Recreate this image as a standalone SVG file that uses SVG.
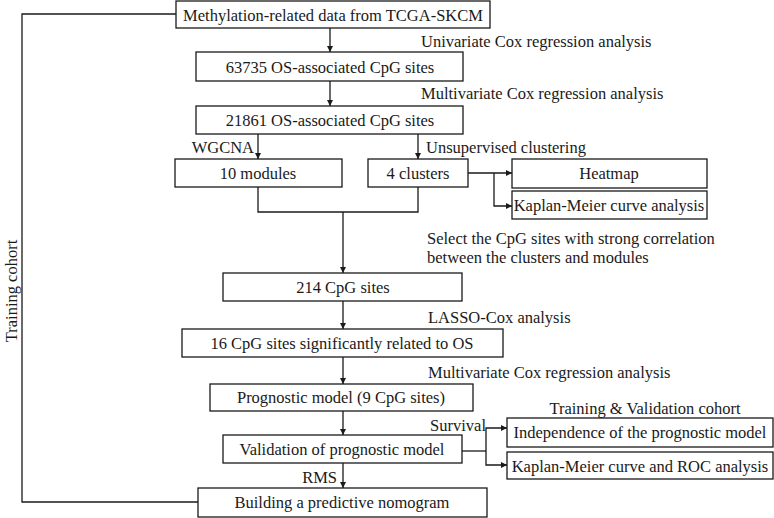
<svg xmlns="http://www.w3.org/2000/svg" width="774" height="518" viewBox="0 0 774 518">
<defs>
<marker id="ah" viewBox="0 0 10 10" refX="10" refY="5" markerWidth="6" markerHeight="6" markerUnits="userSpaceOnUse" orient="auto">
<path d="M0,0 L10,5 L0,10 z" fill="#1a1a1a"/>
</marker>
<style>
rect{fill:#fff;stroke:#1a1a1a;stroke-width:1.3}
text{font-family:"Liberation Serif","Times New Roman",serif;font-size:16.5px;fill:#1a1a1a}
.c{text-anchor:middle;dominant-baseline:central}
.l{dominant-baseline:central}
.r{text-anchor:end;dominant-baseline:central}
#connectors path{fill:none;stroke:#1a1a1a;stroke-width:1.3}
.a{marker-end:url(#ah)}
</style>
</defs>
<rect x="0" y="0" width="774" height="518" style="fill:#fff;stroke:none"/>
<g id="connectors">
<path d="M176,14 H22 V502 H198"/>
<path class="a" d="M330,28 V52"/>
<path class="a" d="M330,81 V106"/>
<path class="a" d="M258,134 V159"/>
<path class="a" d="M418,134 V159"/>
<path d="M258,187 V212 H418 V187"/>
<path class="a" d="M343,212 V273"/>
<path class="a" d="M468,173 H512"/>
<path class="a" d="M494,173 V206 H512"/>
<path class="a" d="M343,301 V329"/>
<path class="a" d="M343,357 V384"/>
<path class="a" d="M343,411 V435"/>
<path class="a" d="M343,463 V488"/>
<path d="M462,451 H486"/>
<path class="a" d="M486,451 V428 H507"/>
<path class="a" d="M486,451 V465 H507"/>
</g>
<g id="n1"><rect x="176" y="1" width="314" height="27"/><text class="c" x="333" y="15">Methylation-related data from TCGA-SKCM</text></g>
<g id="n2"><rect x="196" y="52" width="267" height="29"/><text class="c" x="330" y="67">63735 OS-associated CpG sites</text></g>
<g id="n3"><rect x="196" y="106" width="267" height="28"/><text class="c" x="330" y="120">21861 OS-associated CpG sites</text></g>
<g id="n4"><rect x="175" y="159" width="167" height="28"/><text class="c" x="258" y="173">10 modules</text></g>
<g id="n5"><rect x="368" y="159" width="100" height="28"/><text class="c" x="418" y="173">4 clusters</text></g>
<g id="n6"><rect x="512" y="159" width="195" height="29"/><text class="c" x="609" y="173">Heatmap</text></g>
<g id="n7"><rect x="512" y="191" width="195" height="28"/><text class="c" x="609" y="205">Kaplan-Meier curve analysis</text></g>
<g id="n8"><rect x="223" y="273" width="239" height="28"/><text class="c" x="343" y="287">214 CpG sites</text></g>
<g id="n9"><rect x="182" y="329" width="321" height="28"/><text class="c" x="342" y="343">16 CpG sites significantly related to OS</text></g>
<g id="n10"><rect x="210" y="384" width="263" height="27"/><text class="c" x="341" y="397">Prognostic model (9 CpG sites)</text></g>
<g id="n11"><rect x="223" y="435" width="239" height="28"/><text class="c" x="342" y="449">Validation of prognostic model</text></g>
<g id="n12"><rect x="507" y="418" width="266" height="29"/><text class="c" x="640" y="432">Independence of the prognostic model</text></g>
<g id="n13"><rect x="507" y="452" width="266" height="27"/><text class="c" x="640" y="466">Kaplan-Meier curve and ROC analysis</text></g>
<g id="n14"><rect x="198" y="488" width="289" height="29"/><text class="c" x="342" y="502">Building a predictive nomogram</text></g>
<g id="labels">
<text class="l" x="421" y="41">Univariate Cox regression analysis</text>
<text class="l" x="421" y="93">Multivariate Cox regression analysis</text>
<text class="r" x="254" y="147">WGCNA</text>
<text class="l" x="426" y="147">Unsupervised clustering</text>
<text class="l" x="427" y="238">Select the CpG sites with strong correlation</text>
<text class="l" x="427" y="257">between the clusters and modules</text>
<text class="l" x="428" y="317">LASSO-Cox analysis</text>
<text class="l" x="428" y="372">Multivariate Cox regression analysis</text>
<text class="c" x="645" y="408">Training &amp; Validation cohort</text>
<text class="r" x="486" y="425">Survival</text>
<text class="r" x="337" y="477">RMS</text>
<text class="c" transform="translate(11,291) rotate(-90)" x="0" y="0">Training cohort</text>
</g>
</svg>
